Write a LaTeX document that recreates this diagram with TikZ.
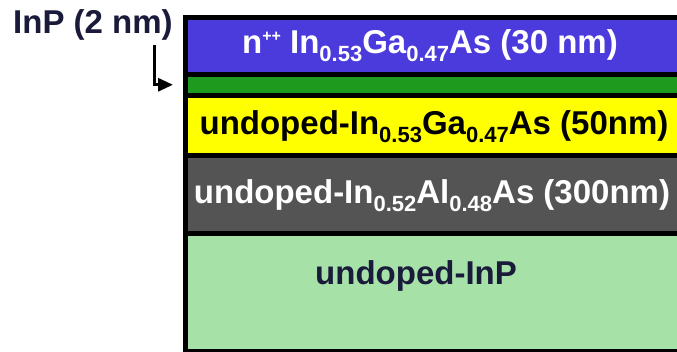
\documentclass[tikz,border=0pt]{standalone}
\usepackage{fontspec}
\setmainfont{Liberation Sans}
\usetikzlibrary{arrows.meta}
\definecolor{topblue}{HTML}{4B3BDC}
\definecolor{capgreen}{HTML}{1E9A1E}
\definecolor{chanyellow}{HTML}{FFFF00}
\definecolor{bufgray}{HTML}{545454}
\definecolor{subgreen}{HTML}{A6E1A8}
\definecolor{labnavy}{HTML}{1A1A3A}
\newcommand\lsub[1]{\raisebox{-0.27em}{\fontsize{22}{22}\selectfont #1}}
\newcommand\lsup[1]{\raisebox{0.35em}{\fontsize{16}{16}\selectfont #1}}
\begin{document}
\begin{tikzpicture}[x=1pt,y=-1pt,
  layerbox/.style={draw=black,line width=5pt,anchor=north west,inner sep=0pt,minimum width=530pt},
  layertext/.style={inner sep=0pt,anchor=base,font=\fontsize{33}{33}\selectfont\bfseries}]
\useasboundingbox (0,0) rectangle (677,351);
\clip (0,0) rectangle (677,351);
\fill[white] (0,0) rectangle (677,351);
\node[layerbox,fill=topblue,minimum height=56.5pt] (cap) at (183,15) {};
\node[layerbox,fill=capgreen,minimum height=21.5pt] (inp) at (183,71.5) {};
\node[layerbox,fill=chanyellow,minimum height=59.5pt] (chan) at (183,93) {};
\node[layerbox,fill=bufgray,minimum height=78pt] (buf) at (183,152.5) {};
\node[layerbox,fill=subgreen,minimum height=118.5pt] (sub) at (183,230.5) {};
\node[layertext,text=white] (captext) at (430,53) {n\lsup{++} In\lsub{0.53}Ga\lsub{0.47}As (30 nm)};
\node[layertext,text=black] (chantext) at (434,134) {undoped-In\lsub{0.53}Ga\lsub{0.47}As (50nm)};
\node[layertext,text=white] (buftext) at (432,203) {undoped-In\lsub{0.52}Al\lsub{0.48}As (300nm)};
\node[layertext,text=labnavy] (subtext) at (416,284) {undoped-InP};
\node[layertext,text=labnavy] (label) at (93,33) {InP (2 nm)};
\coordinate (bend) at (154.5,45);
\draw[line width=3pt,-{Triangle[length=15pt,width=13pt]},shorten >=10pt] (bend) |- (inp.west);
\end{tikzpicture}
\end{document}
